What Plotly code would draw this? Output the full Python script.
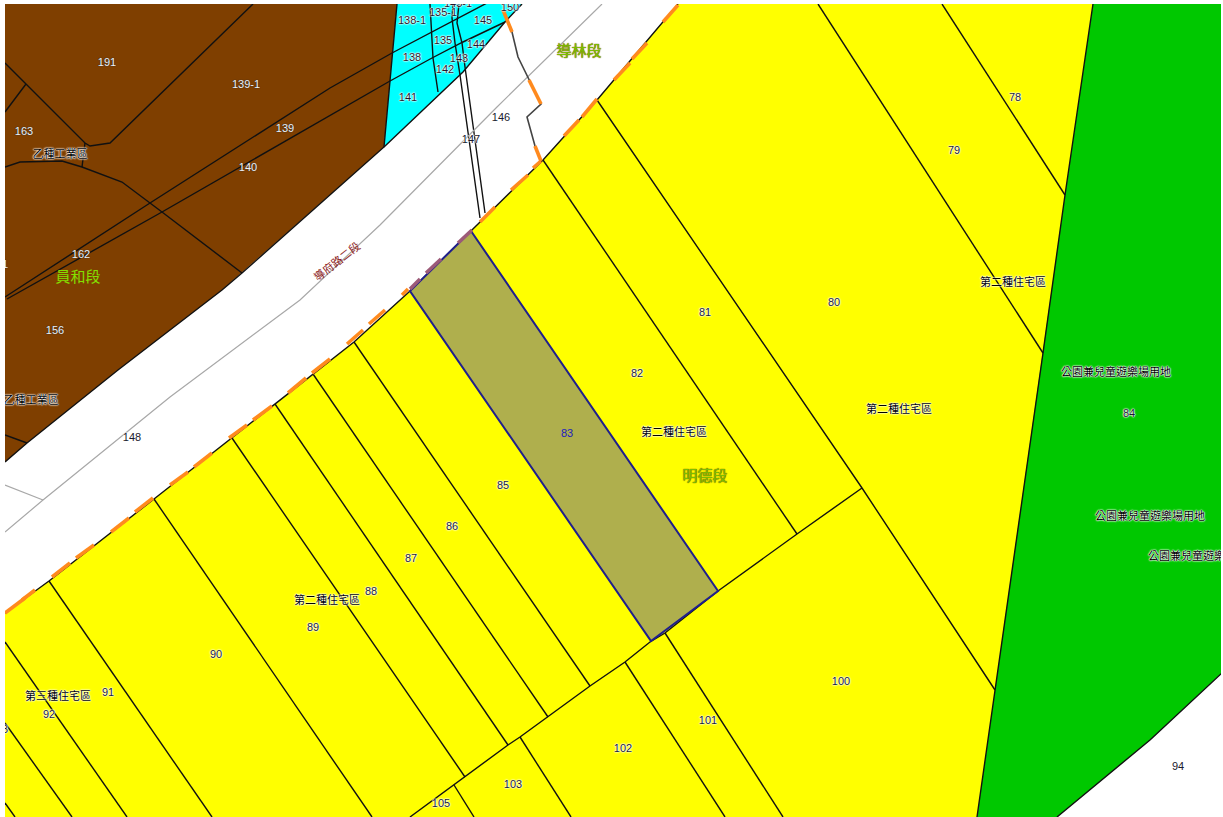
import plotly.graph_objects as go

# ---------- land-use polygons (map x, map y) ----------
brown_x = [5, 397, 384, 242, 222, 118, 27, 5]
brown_y = [4, 4, 147, 273, 290, 370, 443, 462]
cyan_x = [397, 522, 513, 505, 463, 384]
cyan_y = [4, 4, 13, 22, 72, 147]
yellow_x = [5, 49, 154, 232, 275, 313, 354, 410, 471, 543, 597, 678, 1093, 1065, 1043, 995, 977, 5]
yellow_y = [613, 581, 499, 438, 404, 374, 342, 291, 231, 160, 100, 4, 4, 195, 353, 690, 817, 817]
green_x = [1093, 1223, 1223, 1150, 1057, 977, 995, 1043, 1065]
green_y = [4, 4, 672, 740, 817, 817, 690, 353, 195]
parcel83_x = [471, 718, 651, 410, 471]
parcel83_y = [231, 591, 641, 291, 231]

# ---------- parcel boundaries ----------
black_lines = [
    ([253, 110, 90, 85, 26, 5], [4, 143, 146, 143, 84, 63]),
    ([26, 5], [84, 112]),
    ([85, 82], [143, 167]),
    ([5, 20, 62, 82, 122, 150, 162, 242], [167, 162, 161, 167, 182, 203, 212, 273]),
    ([487, 432, 392, 330, 150, 5], [3, 32, 53, 88, 203, 297]),
    ([505, 463, 432, 390, 162, 7], [22, 42, 58, 81, 212, 299]),
    ([5, 27], [435, 443]),
    ([430, 433, 438], [4, 58, 92]),
    ([453, 452, 455, 460, 480], [4, 18, 43, 75, 218]),
    ([459, 457, 462, 465, 485], [4, 23, 43, 67, 213]),
    ([49, 212], [581, 817]),
    ([5, 127], [642, 817]),
    ([5, 72], [723, 817]),
    ([5, 15], [803, 817]),
    ([154, 372], [499, 817]),
    ([232, 465], [438, 777]),
    ([275, 508], [404, 745]),
    ([313, 548], [374, 717]),
    ([354, 590], [342, 686]),
    ([862, 797, 718, 665, 650, 625, 590, 548, 520, 508, 465, 454, 410],
     [488, 534, 591, 633, 642, 662, 686, 717, 737, 745, 777, 785, 817]),
    ([665, 783], [633, 817]),
    ([625, 725], [662, 817]),
    ([520, 571], [737, 817]),
    ([454, 474], [785, 817]),
    ([543, 797], [160, 534]),
    ([597, 862, 995], [100, 488, 690]),
    ([818, 1043], [4, 353]),
    ([942, 1065], [4, 195]),
    ([1093, 1065, 1043, 995, 977], [4, 195, 353, 690, 817]),
    ([1223, 1150, 1057], [672, 740, 817]),
    ([5, 49, 154, 232, 275, 313, 354, 410, 471, 543, 597, 678],
     [613, 581, 499, 438, 404, 374, 342, 291, 231, 160, 100, 4]),
    ([397, 384, 242, 222, 118, 27, 5], [4, 147, 273, 290, 370, 443, 462]),
    ([522, 513, 505, 463, 384], [4, 13, 22, 72, 147]),
]
road_centre_x = [602, 497, 380, 300, 170, 43, 5]
road_centre_y = [4, 107, 225, 300, 397, 500, 532]
road_branch_x = [43, 5]
road_branch_y = [500, 485]
section_edge_x = [503, 512, 518, 529, 541, 527, 535, 541]
section_edge_y = [10, 32, 57, 80, 104, 117, 146, 161]

orange_dashes = [
    ([5, 25], [613, 598]), ([22, 35], [600, 590]), ([52, 70], [577, 563]), ([76, 94], [558, 545]),
    ([111, 129], [532, 518]), ([135, 153], [512, 498]), ([170, 188], [485, 472]), ([194, 212], [467, 453]),
    ([229, 247], [438, 425]), ([253, 272], [420, 406]), ([288, 306], [393, 378]), ([312, 330], [373, 359]),
    ([347, 363], [344, 330]), ([369, 385], [324, 310]), ([402, 408], [295, 289]),
    ([480, 495], [222, 207]), ([511, 528], [190, 175]), ([533, 541], [168, 161]),
    ([564, 579], [136, 120]), ([582, 597], [117, 99]), ([614, 630], [80, 63]), ([632, 647], [59, 43]),
    ([663, 678], [22, 5]),
    ([503, 512], [10, 32]), ([529, 541], [80, 104]), ([535, 541], [146, 161]),
]
parcel_edge_dashes = [([410, 420], [289, 279]), ([426, 441], [273, 259]), ([458, 472], [243, 230])]

# ---------- labels ----------
brown_text = ["191", "139-1", "139", "140", "163", "162", "1", "156"]
brown_lx = [107, 246, 285, 248, 24, 81, 5, 55]
brown_ly = [63, 85, 129, 168, 132, 255, 265, 331]
number_text = ["148", "146", "147",
               "138-1", "135-1", "145", "135", "144", "138", "143", "142", "141", "143-1", "150",
               "78", "79", "80", "81", "82", "84", "85", "86", "87", "88", "89", "90", "100",
               "91", "92", "101", "102", "103", "105", "94", "3"]
number_x = [132, 501, 471,
            412, 443, 483, 443, 476, 412, 459, 445, 408, 458, 510,
            1015, 954, 834, 705, 637, 1129, 503, 452, 411, 371, 313, 216, 841,
            108, 49, 708, 623, 513, 441, 1178, 5]
number_y = [438, 118, 140,
            21, 13, 21, 41, 45, 58, 59, 70, 98, 4, 8,
            98, 151, 303, 313, 374, 414, 486, 527, 559, 592, 628, 655, 682,
            693, 715, 721, 749, 785, 804, 767, 730]
zone_text = ["乙種工業區", "乙種工業區", "第二種住宅區", "第二種住宅區", "第二種住宅區", "第二種住宅區", "第三種住宅區",
             "公園兼兒童遊樂場用地", "公園兼兒童遊樂場用地", "公園兼兒童遊樂場用地"]
zone_x = [60, 31, 1013, 899, 674, 327, 58, 1116, 1150, 1203]
zone_y = [155, 401, 283, 410, 433, 601, 697, 373, 517, 557]
section_text = ["導林段", "明德段"]
section_x = [579, 705]
section_y = [52, 477]
section3_text, section3_x, section3_y = "員和段", 78, 278
road_name = "導府路二段"
road_name_x, road_name_y = 336, 261
selected_text, selected_x, selected_y = "83", 567, 434

FILL = dict(mode="lines", fill="toself", line=dict(width=0), hoverinfo="skip", showlegend=False)
LINE = dict(mode="lines", hoverinfo="skip", showlegend=False)
TEXT = dict(mode="text", hoverinfo="skip", showlegend=False, cliponaxis=True)
CJK = "Noto Sans CJK TC"
SANS = "Liberation Sans"
HALO = "0 0 1px #fff, 0 0 2px #fff, 0 0 2px #fff, 0 0 1px #fff"
DARK_HALO = "0 0 1px #333, 0 0 1px #333"
OLIVE_HALO = "0 0 1px #8A5A00, 0 0 1px #8A5A00"

fig = go.Figure()
for xs, ys, col in [(brown_x, brown_y, "#7F3F00"), (cyan_x, cyan_y, "#00FFFF"),
                    (yellow_x, yellow_y, "#FFFF00"), (green_x, green_y, "#00C800")]:
    fig.add_trace(go.Scatter(x=xs, y=ys, fillcolor=col, **FILL))
for xs, ys in black_lines:
    fig.add_trace(go.Scatter(x=xs, y=ys, line=dict(color="#111111", width=1.4), **LINE))
for xs, ys in [(road_centre_x, road_centre_y), (road_branch_x, road_branch_y)]:
    fig.add_trace(go.Scatter(x=xs, y=ys, line=dict(color="#A8A8A8", width=1.2), **LINE))
fig.add_trace(go.Scatter(x=section_edge_x, y=section_edge_y, line=dict(color="#444444", width=1.6), **LINE))
fig.add_trace(go.Scatter(x=parcel83_x, y=parcel83_y, mode="lines", fill="toself", fillcolor="#AFAF4D",
                         line=dict(color="#1F1F8C", width=2), hoverinfo="skip", showlegend=False))
for xs, ys in orange_dashes:
    fig.add_trace(go.Scatter(x=xs, y=ys, line=dict(color="#FF8A1E", width=3.6), **LINE))
for xs, ys in parcel_edge_dashes:
    fig.add_trace(go.Scatter(x=xs, y=ys, line=dict(color="#9C5A78", width=3.6), **LINE))

fig.add_trace(go.Scatter(x=number_x, y=number_y, text=number_text,
                         textfont=dict(family=SANS, size=11, color="#1A1A2E", shadow=HALO), **TEXT))
fig.add_trace(go.Scatter(x=brown_lx, y=brown_ly, text=brown_text,
                         textfont=dict(family=SANS, size=11, color="#F0F0F4", shadow=DARK_HALO), **TEXT))
fig.add_trace(go.Scatter(x=[selected_x], y=[selected_y], text=[selected_text],
                         textfont=dict(family=SANS, size=11, color="#2020C0"), **TEXT))
fig.add_trace(go.Scatter(x=zone_x, y=zone_y, text=zone_text,
                         textfont=dict(family=CJK, size=11, color="#000000", shadow=HALO), **TEXT))
fig.add_trace(go.Scatter(x=section_x, y=section_y, text=section_text,
                         textfont=dict(family=CJK, size=15, color="#78C000", shadow=OLIVE_HALO), **TEXT))
fig.add_trace(go.Scatter(x=[section3_x], y=[section3_y], text=[section3_text],
                         textfont=dict(family=CJK, size=15, color="#84E000"), **TEXT))

fig.add_annotation(x=road_name_x, y=road_name_y, xref="x", yref="y", text=road_name, showarrow=False,
                   textangle=-38, font=dict(family=CJK, size=11, color="#8B1A1A"))

fig.update_layout(
    width=1223, height=817, margin=dict(l=5, r=2, t=4, b=0),
    paper_bgcolor="#FFFFFF", plot_bgcolor="#FFFFFF", showlegend=False, hovermode=False,
    xaxis=dict(range=[5, 1221], visible=False, fixedrange=True),
    yaxis=dict(range=[817, 4], visible=False, fixedrange=True),
)
fig.write_html("out.html", config={"displayModeBar": False},
               post_script="document.body.style.margin='0';document.documentElement.style.overflow='hidden';")
